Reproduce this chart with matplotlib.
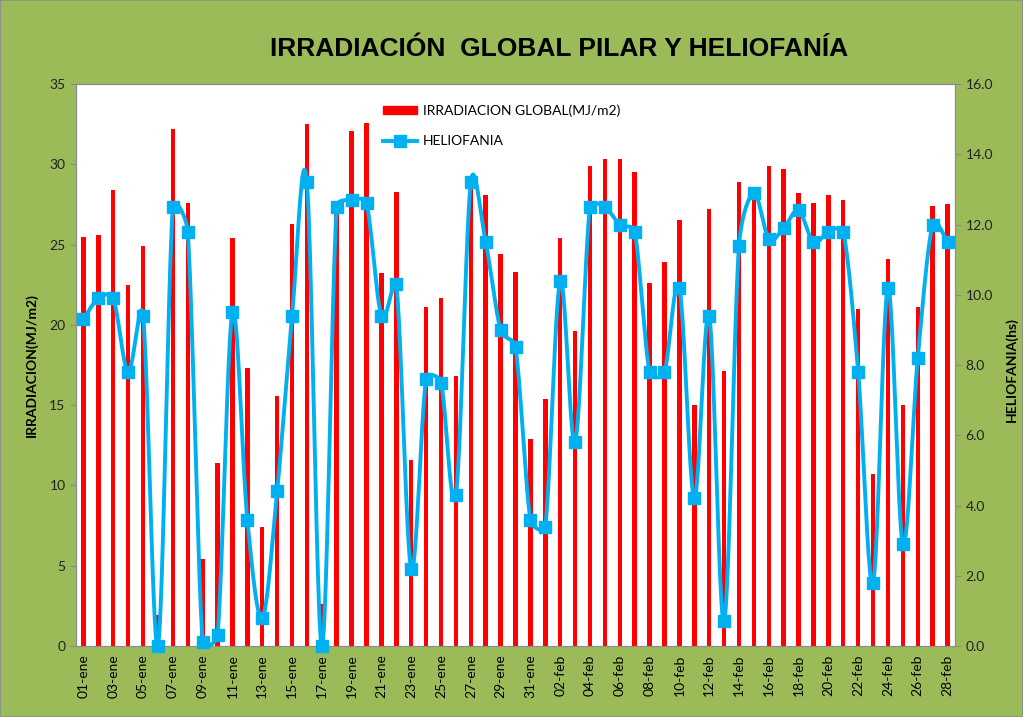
import matplotlib; matplotlib.use("Agg")
import matplotlib.pyplot as plt
from matplotlib.patches import Rectangle
from matplotlib.lines import Line2D
import numpy as np

# ---- data ----
dias = [f"{d:02d}-ene" for d in range(1, 32)] + [f"{d:02d}-feb" for d in range(1, 29)]
irradiacion = [25.5, 25.6, 28.4, 22.5, 24.9, 1.9, 32.2, 27.6, 5.4, 11.4,
               25.4, 17.3, 7.4, 15.6, 26.3, 32.5, 2.6, 27.0, 32.1, 32.6,
               23.2, 28.3, 11.6, 21.1, 21.7, 16.8, 28.7, 28.1, 24.4, 23.3,
               12.9, 15.4, 25.4, 19.6, 29.9, 30.3, 30.3, 29.5, 22.6, 23.9,
               26.5, 15.0, 27.2, 17.1, 28.9, 28.0, 29.9, 29.7, 28.2, 27.6,
               28.1, 27.8, 21.0, 10.7, 24.1, 15.0, 21.1, 27.4, 27.5]
heliofania = [9.3, 9.9, 9.9, 7.8, 9.4, 0.0, 12.5, 11.8, 0.1, 0.3,
              9.5, 3.6, 0.8, 4.4, 9.4, 13.2, 0.0, 12.5, 12.7, 12.6,
              9.4, 10.3, 2.2, 7.6, 7.5, 4.3, 13.2, 11.5, 9.0, 8.5,
              3.6, 3.4, 10.4, 5.8, 12.5, 12.5, 12.0, 11.8, 7.8, 7.8,
              10.2, 4.2, 9.4, 0.7, 11.4, 12.9, 11.6, 11.9, 12.4, 11.5,
              11.8, 11.8, 7.8, 1.8, 10.2, 2.9, 8.2, 12.0, 11.5]

GREEN, RED, BLUE = "#9bbb59", "#ff0000", "#00b0f0"
plt.rcParams["font.family"] = ["Lato", "DejaVu Sans"]

def smooth(x, y, sx, sy, n=24):
    # excel-ish smoothed line in screen units: catmull-rom handles (chord/6),
    # clamped to half the segment so spikes only overshoot a little
    P = np.column_stack([np.asarray(x) * sx, np.asarray(y) * sy]).astype(float)
    m = len(P)
    T = np.array([(P[min(i + 1, m - 1)] - P[max(i - 1, 0)]) / 6 for i in range(m)])
    def clamp(v, lim):
        L = np.hypot(*v)
        return v if L <= lim or L == 0 else v * lim / L
    out = []
    t = np.linspace(0, 1, n)[:, None]
    for i in range(m - 1):
        p0, p3 = P[i], P[i + 1]
        half = 0.5 * np.hypot(*(p3 - p0))
        p1 = p0 + clamp(T[i], half)
        p2 = p3 - clamp(T[i + 1], half)
        out.append((1-t)**3*p0 + 3*(1-t)**2*t*p1 + 3*(1-t)*t**2*p2 + t**3*p3)
    seg = np.vstack(out)
    return seg[:, 0] / sx, seg[:, 1] / sy

fig = plt.figure(figsize=(10.23, 7.17), dpi=100, facecolor=GREEN)
fig.add_artist(Rectangle((0, 0), 1, 1, transform=fig.transFigure, fill=False, edgecolor="#8c8c8c", lw=1.2))
ax = fig.add_axes([76/1023, 1-646/717, 879/1023, 562/717])
ax.set_facecolor("white")
x = np.arange(len(dias))
ax.bar(x, irradiacion, width=0.3, color=RED, zorder=2)
ax.set_xlim(-0.5, len(dias) - 0.5)
ax.set_ylim(0, 35)
ax.set_yticks(range(0, 36, 5))
ax.set_xticks(x[::2])
ax.set_xticklabels(dias[::2], rotation=90, fontsize=10)
ax.tick_params(axis="x", length=0, pad=6)
ax.tick_params(axis="y", labelsize=10, length=4, color="#8c8c8c", colors="#222222")
for s in ax.spines.values():
    s.set_color("#8c8c8c")
ax.set_ylabel("IRRADIACION(MJ/m2)", fontsize=10, fontweight="bold", labelpad=8)

ax2 = ax.twinx()
ax2.set_ylim(0, 16)
ax2.set_yticks(np.arange(0, 16.1, 2))
ax2.set_yticklabels([f"{v:.1f}" for v in np.arange(0, 16.1, 2)])
ax2.tick_params(axis="y", labelsize=10, length=4, color="#8c8c8c", colors="#222222")
for s in ax2.spines.values():
    s.set_color("#8c8c8c")
# px per category / px per hour, so the curve is smoothed as it appears on screen
cx, cy = smooth(x, heliofania, 879/59, 562/16)
ax2.plot(cx, np.clip(cy, 0, None), color=BLUE, lw=2.8, zorder=3, clip_on=False)
ax2.plot(x, heliofania, ls="none", marker="s", ms=9, color=BLUE, zorder=4, clip_on=False)
fig.text(1012/1023, 1-370/717, "HELIOFANIA(hs)", rotation=90, fontsize=10, fontweight="bold",
         ha="center", va="center")

handles = [Rectangle((0, 0), 1, 1, color=RED),
           Line2D([], [], color=BLUE, lw=2.8, marker="s", ms=9)]
ax2.legend(handles, ["IRRADIACION GLOBAL(MJ/m2)", "HELIOFANIA"], loc="upper left",
           bbox_to_anchor=(370/1023, 1-92/717), bbox_transform=fig.transFigure,
           frameon=False, fontsize=10, handlelength=2.5, handleheight=0.5,
           labelspacing=1.3, handletextpad=0.4)

fig.text(559/1023, 1-49/717, "IRRADIACIÓN  GLOBAL PILAR Y HELIOFANÍA", ha="center", va="center",
         fontsize=19, fontweight="bold", family=["Liberation Sans", "DejaVu Sans"])

fig.savefig("out.png", dpi=100, facecolor=GREEN)
